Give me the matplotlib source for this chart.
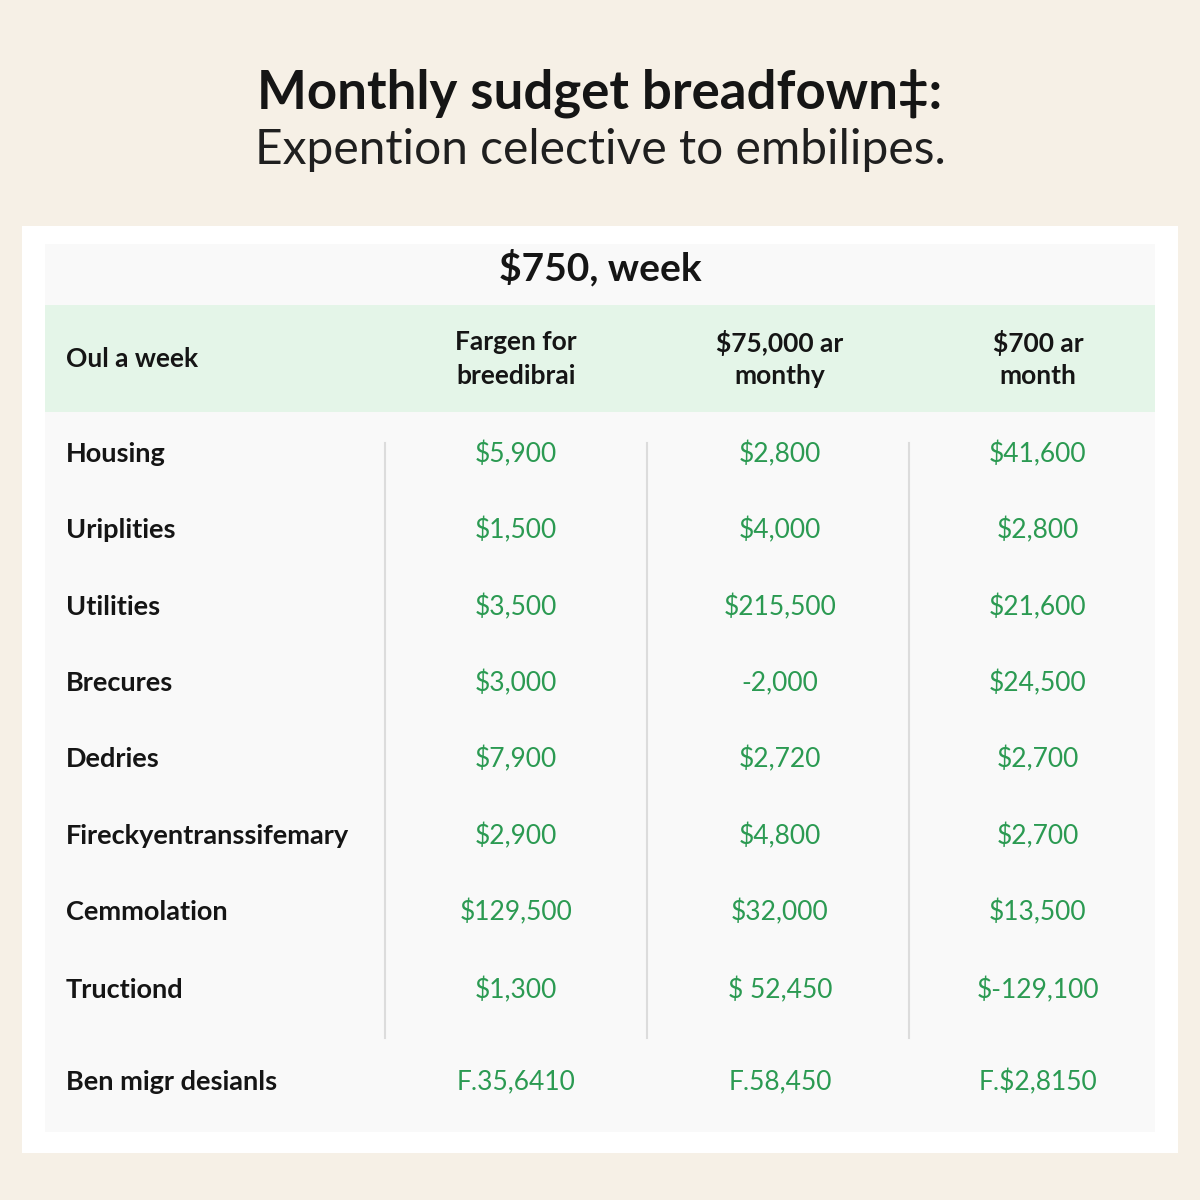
import matplotlib
matplotlib.use("Agg")
import matplotlib.pyplot as plt
from matplotlib.patches import Rectangle

plt.rcParams['font.family'] = ['Lato', 'DejaVu Sans']

title = "Monthly sudget breadfown\u2021:"
subtitle = "Expention celective to embilipes."
table_title = "$750, week"

col_headers = ["Oul a week", "Fargen for\nbreedibrai", "$75,000 ar\nmonthy", "$700 ar\nmonth"]
categories = ["Housing", "Uriplities", "Utilities", "Brecures", "Dedries",
              "Fireckyentranssifemary", "Cemmolation", "Tructiond"]
col1 = ["$5,900", "$1,500", "$3,500", "$3,000", "$7,900", "$2,900", "$129,500", "$1,300"]
col2 = ["$2,800", "$4,000", "$215,500", "-2,000", "$2,720", "$4,800", "$32,000", "$ 52,450"]
col3 = ["$41,600", "$2,800", "$21,600", "$24,500", "$2,700", "$2,700", "$13,500", "$-129,100"]
total_label = "Ben migr desianls"
totals = ["F.35,6410", "F.58,450", "F.$2,8150"]

BG = "#f6f0e6"
GREEN_TXT = "#2b9a52"
DARK = "#151515"

fig = plt.figure(figsize=(12, 12), dpi=100, facecolor=BG)
ax = fig.add_axes([0, 0, 1, 1])
ax.set_xlim(0, 1200)
ax.set_ylim(1200, 0)
ax.axis("off")

# card and panels
ax.add_patch(Rectangle((22, 226), 1156, 927, facecolor="#ffffff", edgecolor="none"))
ax.add_patch(Rectangle((45, 244), 1110, 888, facecolor="#f9f9f9", edgecolor="none"))
ax.add_patch(Rectangle((45, 305), 1110, 107, facecolor="#e4f5e8", edgecolor="none"))

# titles
ax.text(600, 93, title, ha="center", va="center", fontsize=38, fontweight="bold", color=DARK)
ax.text(600, 150, subtitle, ha="center", va="center", fontsize=34.5, fontweight="normal", color="#1f1f1f")
ax.text(600, 268, table_title, ha="center", va="center", fontsize=28, fontweight="bold", color=DARK)

col_x = [516, 780, 1038]
ax.text(66, 359, col_headers[0], ha="left", va="center", fontsize=19, fontweight="bold", color=DARK)
for x, h in zip(col_x, col_headers[1:]):
    ax.text(x, 359, h, ha="center", va="center", fontsize=19, fontweight="bold",
            color=DARK, linespacing=1.45)

# vertical separators
for x in [385, 647, 909]:
    ax.plot([x, x], [443, 1038], color="#dcdcdc", lw=1.5)

row_y = [454, 530, 607, 683, 759, 836, 912, 990]
for y, cat, a, b, c in zip(row_y, categories, col1, col2, col3):
    ax.text(66, y, cat, ha="left", va="center", fontsize=19.5, fontweight="bold", color=DARK)
    for x, v in zip(col_x, [a, b, c]):
        ax.text(x, y, v, ha="center", va="center", fontsize=19, color=GREEN_TXT)

ax.text(66, 1082, total_label, ha="left", va="center", fontsize=19.5, fontweight="bold", color=DARK)
for x, v in zip(col_x, totals):
    ax.text(x, 1082, v, ha="center", va="center", fontsize=19, color=GREEN_TXT)

fig.savefig("out.png", dpi=100, facecolor=BG)
